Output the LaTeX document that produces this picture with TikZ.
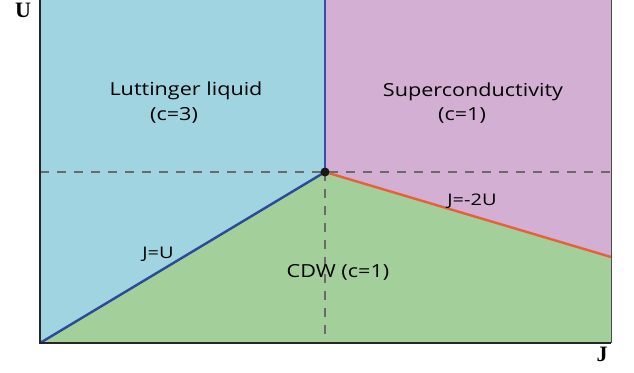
\documentclass[tikz,border=0pt]{standalone}
\usepackage{fontspec}
\usepackage{graphicx}
\setmainfont{Open Sans}
\newfontfamily\axisfont{Liberation Serif}
\definecolor{lblue}{HTML}{A0D4E0}
\definecolor{lpurple}{HTML}{D3B0D3}
\definecolor{lgreen}{HTML}{A3CF9B}
\definecolor{dblue}{HTML}{2A4A9A}
\definecolor{vblue}{HTML}{3A4CA8}
\definecolor{orng}{HTML}{E8603A}
\definecolor{dgray}{HTML}{6A6A6A}
\newcommand{\wideA}[1]{\scalebox{1.2}[1]{#1}}
\newcommand{\wideB}[1]{\scalebox{1.25}[1]{#1}}
\begin{document}
\begin{tikzpicture}[x=1pt,y=-1pt,
  lbl/.style={font=\fontsize{18}{20}\selectfont, anchor=base, inner sep=0pt},
  slbl/.style={font=\fontsize{16}{18}\selectfont, anchor=base, inner sep=0pt},
  axl/.style={font=\axisfont\bfseries\fontsize{22}{24}\selectfont, anchor=base, inner sep=0pt},
  dsh/.style={dgray, line width=1.2pt, dash pattern=on 9pt off 8pt},
  bnd/.style={line width=2.4pt}]
\useasboundingbox (0,0) rectangle (634,372);
\coordinate (tl) at (40,0);
\coordinate (bl) at (40,343);
\coordinate (br) at (611,343);
\coordinate (tr) at (611,0);
\coordinate (c) at (325,172);
\coordinate (top) at (325,0);
\coordinate (re) at (611,257);
\coordinate (cb) at (325,343);
\coordinate (dl) at (40,172);
\coordinate (dr) at (611,172);
% regions
\fill[lblue] (tl) -- (top) -- (c) -- (bl) -- cycle;
\fill[lpurple] (top) -- (tr) -- (re) -- (c) -- cycle;
\fill[lgreen] (bl) -- (c) -- (re) -- (br) -- cycle;
% dashed lines
\draw[dsh] (dl) -- (dr);
\draw[dsh] (c) -- (cb);
% boundaries
\draw[bnd, dblue] (bl) -- (c);
\draw[bnd, orng] (c) -- (re);
\draw[bnd, vblue, line width=2.8pt] (c) -- (top);
% frame
\draw[line width=1.6pt, black!85] (tl) -- (bl) -- (br);
\draw[line width=1pt, black!70] (br) -- (tr);
\fill[black!90] (c) circle (4.5pt);
% labels
\node[lbl] (ll) at (186,95) {\wideA{Luttinger liquid}};
\node[lbl] (llc) at (174,120) {\wideA{(c=3)}};
\node[lbl] (sc) at (473,96) {\wideA{Superconductivity}};
\node[lbl] (scc) at (462,120) {\wideA{(c=1)}};
\node[lbl] (cdw) at (338,277) {\wideA{CDW (c=1)}};
\node[slbl] (j2u) at (472,205) {\wideB{J=-2U}};
\node[slbl] (ju) at (158,258) {\wideB{J=U}};
\node[axl] (U) at (23,17) {U};
\node[axl] (J) at (602,361) {J};
\end{tikzpicture}
\end{document}
